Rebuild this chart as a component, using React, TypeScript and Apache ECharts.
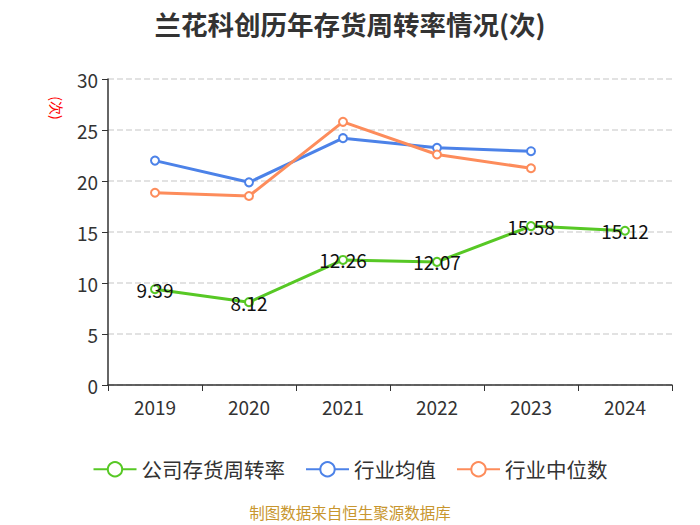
import React, { useEffect, useRef } from "react";
import * as echarts from "echarts";

const categories = ["2019", "2020", "2021", "2022", "2023", "2024"];
const companyValues = [9.39, 8.12, 12.26, 12.07, 15.58, 15.12];
const industryAvg = [22.0, 19.87, 24.2, 23.25, 22.92, null];
const industryMedian = [18.85, 18.53, 25.8, 22.6, 21.25, null];
const seriesNames = ["公司存货周转率", "行业均值", "行业中位数"];
const colors = ["#57c825", "#4c82e8", "#fd8c5b"];

const FONT = "Noto Sans CJK SC, Noto Sans, sans-serif";

export default function App() {
  const ref = useRef<HTMLDivElement>(null);
  useEffect(() => {
    if (!ref.current) return;
    const chart = echarts.init(ref.current, undefined, { renderer: "svg" });
    const mk = (i: number, data: any[], withLabel: boolean) => ({
      name: seriesNames[i],
      type: "line",
      data,
      symbol: "emptyCircle",
      symbolSize: 8,
      lineStyle: { width: 3, color: colors[i] },
      itemStyle: { color: colors[i], borderWidth: 2 },
      label: withLabel
        ? {
            show: true,
            position: "inside",
            color: "#111",
            fontSize: 19,
            fontFamily: FONT,
            formatter: (p: any) => p.value.toFixed(2),
          }
        : { show: false },
      z: withLabel ? 3 : 2,
    });
    chart.setOption({
      animation: false,
      backgroundColor: "#fff",
      textStyle: { fontFamily: FONT },
      title: {
        text: "兰花科创历年存货周转率情况(次)",
        left: "center",
        top: 5,
        textStyle: { fontSize: 26.5, fontWeight: "bold", color: "#333", fontFamily: FONT },
      },
      grid: { left: 108, right: 28, top: 79, bottom: 140 },
      legend: {
        top: 454,
        left: "center",
        itemWidth: 43,
        itemHeight: 18,
        itemGap: 20,
        textStyle: { fontSize: 20.5, color: "#333", fontFamily: FONT },
        data: seriesNames,
      },
      xAxis: {
        type: "category",
        data: categories,
        boundaryGap: true,
        axisLine: { lineStyle: { color: "#333", width: 1.5 } },
        axisTick: { show: true, alignWithLabel: false, length: 6, lineStyle: { color: "#333" } },
        axisLabel: { fontSize: 19, color: "#333", margin: 12, fontFamily: FONT },
      },
      yAxis: {
        type: "value",
        min: 0,
        max: 30,
        interval: 5,
        axisLine: { show: true, lineStyle: { color: "#333", width: 1.5 } },
        axisTick: { show: true, length: 6, lineStyle: { color: "#333" } },
        axisLabel: { fontSize: 19, color: "#333", margin: 10, fontFamily: FONT },
        splitLine: { show: true, lineStyle: { type: "dashed", color: "#d9d9d9", width: 1.5 } },
      },
      graphic: [
        {
          type: "text",
          x: 57,
          y: 108,
          rotation: -Math.PI / 2,
          style: {
            text: "(次)",
            fill: "#ff0000",
            fontSize: 14,
            fontFamily: FONT,
            align: "center",
            verticalAlign: "middle",
          },
        },
        {
          type: "text",
          x: 350,
          y: 504,
          style: {
            text: "制图数据来自恒生聚源数据库",
            fill: "#c8962e",
            fontSize: 15.5,
            fontFamily: FONT,
            align: "center",
            verticalAlign: "top",
          },
        },
      ],
      series: [
        mk(0, companyValues, true),
        mk(1, industryAvg, false),
        mk(2, industryMedian, false),
      ],
    });
    return () => chart.dispose();
  }, []);
  return (
    <div
      ref={ref}
      style={{ position: "absolute", left: 0, top: 0, width: 700, height: 525 }}
    />
  );
}
